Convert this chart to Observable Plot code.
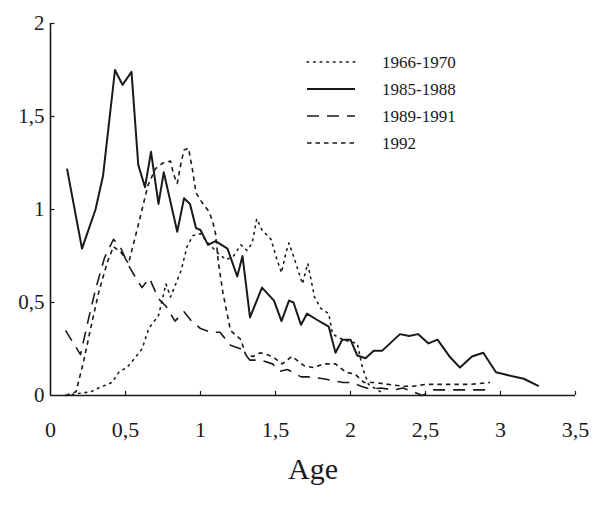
<!DOCTYPE html>
<html>
<head>
<meta charset="utf-8">
<script src="https://cdn.jsdelivr.net/npm/d3@7"></script>
<script src="https://cdn.jsdelivr.net/npm/@observablehq/plot@0.6"></script>
<style>
  html, body { margin: 0; padding: 0; background: white; }
  #wrap { position: relative; width: 600px; height: 507px; font-family: "Liberation Serif", "DejaVu Serif", serif; }
  #legend { position: absolute; left: 0; top: 0; width: 600px; height: 507px; pointer-events: none; }
</style>
</head>
<body>
<div id="wrap"></div>
<script>
// ---- data ----
const xTicks = [0, 0.5, 1, 1.5, 2, 2.5, 3, 3.5];
const yTicks = [0, 0.5, 1, 1.5, 2];

const seriesNames = ["1966-1970", "1985-1988", "1989-1991", "1992"];

const age66 = [0.10, 0.18, 0.27, 0.32, 0.41, 0.46, 0.51, 0.57, 0.61, 0.655, 0.72, 0.77, 0.80, 0.87, 0.91, 0.95, 1.00, 1.05, 1.11, 1.17, 1.22, 1.27, 1.31, 1.345, 1.375, 1.41, 1.47, 1.51, 1.54, 1.57, 1.59, 1.62, 1.66, 1.68, 1.715, 1.745, 1.76, 1.80, 1.855, 1.88, 1.95, 2.045, 2.08, 2.12, 2.20];
const val66 = [0.00, 0.01, 0.02, 0.04, 0.07, 0.13, 0.15, 0.21, 0.25, 0.36, 0.43, 0.60, 0.53, 0.67, 0.80, 0.86, 0.87, 0.82, 0.77, 0.73, 0.75, 0.81, 0.78, 0.82, 0.95, 0.89, 0.84, 0.73, 0.66, 0.77, 0.82, 0.75, 0.65, 0.60, 0.71, 0.59, 0.53, 0.47, 0.44, 0.33, 0.30, 0.28, 0.15, 0.06, 0.02];

const age85 = [0.11, 0.21, 0.30, 0.35, 0.43, 0.48, 0.54, 0.585, 0.63, 0.67, 0.72, 0.755, 0.845, 0.89, 0.93, 0.97, 1.00, 1.05, 1.10, 1.18, 1.245, 1.28, 1.33, 1.41, 1.49, 1.54, 1.59, 1.62, 1.67, 1.71, 1.77, 1.855, 1.90, 1.945, 2.00, 2.045, 2.10, 2.155, 2.21, 2.33, 2.39, 2.45, 2.52, 2.58, 2.66, 2.73, 2.81, 2.885, 2.97, 3.045, 3.155, 3.255];
const val85 = [1.22, 0.79, 1.00, 1.18, 1.75, 1.67, 1.74, 1.24, 1.12, 1.31, 1.03, 1.20, 0.88, 1.06, 1.03, 0.90, 0.89, 0.81, 0.83, 0.79, 0.64, 0.75, 0.42, 0.58, 0.51, 0.40, 0.51, 0.50, 0.38, 0.44, 0.41, 0.37, 0.23, 0.30, 0.30, 0.215, 0.20, 0.24, 0.24, 0.33, 0.32, 0.33, 0.28, 0.30, 0.21, 0.15, 0.21, 0.23, 0.125, 0.11, 0.09, 0.05];

const age89 = [0.10, 0.20, 0.25, 0.30, 0.36, 0.42, 0.47, 0.52, 0.57, 0.61, 0.66, 0.72, 0.77, 0.83, 0.89, 0.94, 1.00, 1.07, 1.13, 1.20, 1.27, 1.33, 1.40, 1.48, 1.53, 1.58, 1.67, 1.72, 1.82, 1.88, 1.95, 2.01, 2.07, 2.13, 2.20, 2.29, 2.35, 2.45, 2.48, 2.55, 2.70, 2.80, 2.93];
const val89 = [0.35, 0.22, 0.40, 0.57, 0.74, 0.84, 0.79, 0.70, 0.63, 0.58, 0.63, 0.52, 0.48, 0.40, 0.45, 0.40, 0.36, 0.34, 0.34, 0.27, 0.25, 0.19, 0.19, 0.17, 0.13, 0.14, 0.10, 0.10, 0.09, 0.08, 0.07, 0.07, 0.05, 0.035, 0.04, 0.03, 0.04, 0.01, 0.00, 0.03, 0.03, 0.03, 0.03];

const age92 = [0.10, 0.17, 0.22, 0.27, 0.32, 0.38, 0.42, 0.47, 0.52, 0.58, 0.65, 0.70, 0.75, 0.80, 0.82, 0.845, 0.87, 0.89, 0.92, 0.945, 0.97, 1.00, 1.055, 1.08, 1.10, 1.12, 1.15, 1.20, 1.27, 1.30, 1.35, 1.40, 1.48, 1.545, 1.61, 1.69, 1.755, 1.82, 1.90, 1.97, 2.03, 2.09, 2.155, 2.25, 2.35, 2.42, 2.50, 2.60, 2.70, 2.80, 2.93];
const val92 = [0.00, 0.02, 0.18, 0.37, 0.55, 0.72, 0.80, 0.77, 0.71, 0.90, 1.13, 1.22, 1.25, 1.26, 1.19, 1.14, 1.25, 1.32, 1.33, 1.22, 1.09, 1.05, 0.99, 0.94, 0.87, 0.71, 0.55, 0.35, 0.30, 0.22, 0.21, 0.23, 0.21, 0.17, 0.21, 0.16, 0.15, 0.17, 0.17, 0.125, 0.115, 0.07, 0.07, 0.06, 0.05, 0.05, 0.06, 0.06, 0.06, 0.06, 0.07];

// ---- build tables ----
const toRows = (ages, vals) => ages.map((a, i) => ({age: a, value: vals[i]}));
const d66 = toRows(age66, val66);
const d85 = toRows(age85, val85);
const d89 = toRows(age89, val89);
const d92 = toRows(age92, val92);

const fmt = d => String(d).replace(".", ",");
const ink = "#1a1a1a";

const styles = {
  "1966-1970": {dash: "1.6,5", width: 1.6, cap: "round"},
  "1985-1988": {dash: null, width: 2, cap: "butt"},
  "1989-1991": {dash: "12,8", width: 1.6, cap: "butt"},
  "1992": {dash: "4.5,4", width: 1.6, cap: "butt"}
};

const lineMark = (data, name) => Plot.line(data, {
  x: "age", y: "value", stroke: ink,
  strokeWidth: styles[name].width,
  strokeDasharray: styles[name].dash,
  strokeLinecap: styles[name].cap,
  strokeLinejoin: "round"
});

const chart = Plot.plot({
  width: 600,
  height: 507,
  marginLeft: 50,
  marginRight: 25,
  marginTop: 23,
  marginBottom: 112,
  style: {fontFamily: "'Liberation Serif', 'DejaVu Serif', serif", background: "white", color: ink},
  x: {domain: [0, 3.5]},
  y: {domain: [0, 2]},
  marks: [
    Plot.axisX({ticks: xTicks, tickFormat: fmt, tickSize: 0, tickPadding: 26, fontSize: 22, label: null}),
    Plot.axisY({ticks: yTicks, tickFormat: fmt, tickSize: 0, tickPadding: 6, fontSize: 21, label: null}),
    Plot.ruleX(xTicks.slice(1), {x: d => d, y1: 0, y2: 0.022, stroke: ink, strokeWidth: 1.2}),
    Plot.ruleY(yTicks.slice(1), {y: d => d, x1: 0, x2: 0.03, stroke: ink, strokeWidth: 1.2}),
    Plot.ruleY([0], {stroke: ink, strokeWidth: 1.6}),
    Plot.ruleX([0], {stroke: ink, strokeWidth: 1.6}),
    lineMark(d66, "1966-1970"),
    lineMark(d85, "1985-1988"),
    lineMark(d89, "1989-1991"),
    lineMark(d92, "1992"),
    Plot.text(["Age"], {frameAnchor: "bottom", dy: 83, fontSize: 30, fill: ink})
  ]
});

const wrap = document.getElementById("wrap");
wrap.appendChild(chart);

// ---- legend overlay ----
const ns = "http://www.w3.org/2000/svg";
const leg = document.createElementNS(ns, "svg");
leg.setAttribute("id", "legend");
leg.setAttribute("width", 600);
leg.setAttribute("height", 507);
const rowY = [62, 89, 116, 143];
seriesNames.forEach((name, i) => {
  const st = styles[name];
  const ln = document.createElementNS(ns, "line");
  ln.setAttribute("x1", 307); ln.setAttribute("x2", 355);
  ln.setAttribute("y1", rowY[i]); ln.setAttribute("y2", rowY[i]);
  ln.setAttribute("stroke", ink);
  ln.setAttribute("stroke-width", st.width);
  if (st.dash) ln.setAttribute("stroke-dasharray", st.dash);
  ln.setAttribute("stroke-linecap", st.cap);
  leg.appendChild(ln);
  const tx = document.createElementNS(ns, "text");
  tx.setAttribute("x", 382); tx.setAttribute("y", rowY[i]);
  tx.setAttribute("dy", "0.35em");
  tx.setAttribute("font-size", 17);
  tx.setAttribute("font-family", "'Liberation Serif', 'DejaVu Serif', serif");
  tx.setAttribute("fill", ink);
  tx.textContent = name;
  leg.appendChild(tx);
});
wrap.appendChild(leg);
</script>
</body>
</html>
